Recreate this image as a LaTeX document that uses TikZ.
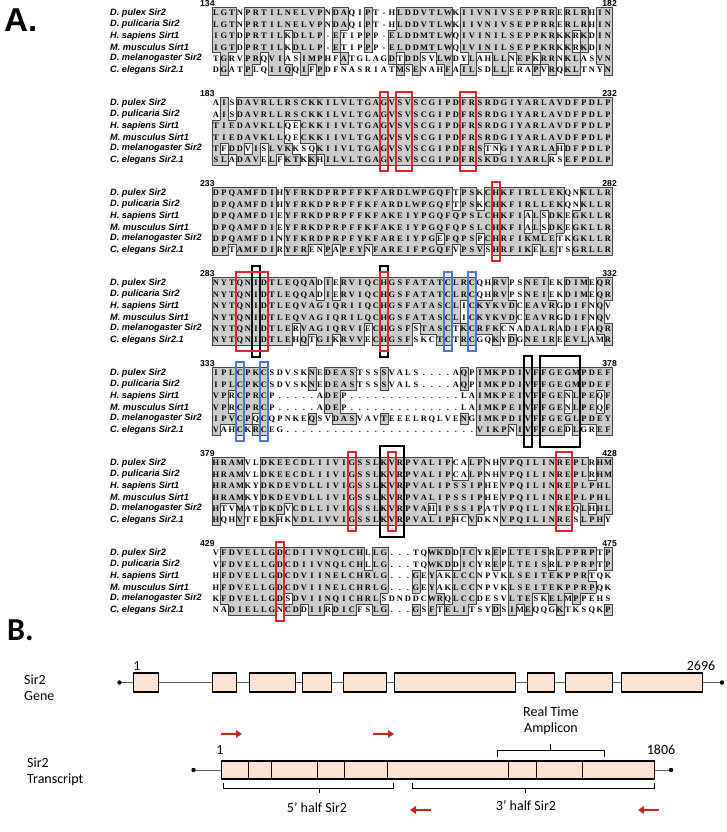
\documentclass[tikz,border=0pt]{standalone}
\usepackage{fontspec}
\setmainfont{Liberation Serif}
\setsansfont{Liberation Sans}
\newfontfamily\calibri{Carlito}
\usetikzlibrary{arrows.meta, positioning}

\definecolor{exonfill}{HTML}{FBE3D3}
\definecolor{boxred}{HTML}{E3262A}
\definecolor{boxblue}{HTML}{4A78D0}
\definecolor{primerred}{HTML}{C0281C}
\definecolor{shadegray}{HTML}{CCCCCC}
\definecolor{shadeline}{HTML}{444444}

% one residue per column: \aa-block-row-column
\makeatletter
\newcount\aacol
\newcommand\storerow[3]{%
  \aacol=0
  \@tfor\onechar:=#3\do{%
    \advance\aacol by 1
    \expandafter\xdef\csname aa-#1-#2-\the\aacol\endcsname{\onechar}}}
\makeatother
\newcommand\storeblock[7]{%
  \storerow{#1}{1}{#2}\storerow{#1}{2}{#3}\storerow{#1}{3}{#4}%
  \storerow{#1}{4}{#5}\storerow{#1}{5}{#6}\storerow{#1}{6}{#7}}

\storeblock{1}{LGTNPRTILNELVPNDAQIPT-HLDDVTLWKIIVNIVSEPPRRERLRHIN}
  {LGTNPRTILNELVPNDAQIPT-HLDDVTLWKIIVNIVSEPPRRERLRHIN}
  {IGTDPRTILKDLLP-ETIPPP-ELDDMTLWQIVINILSEPPKRKKRKDIN}
  {IGTDPRTILKDLLP-ETIPPP-ELDDMTLWQIVINILSEPPKRKKRKDIN}
  {TGRVPRQVIASIMPHFATGLAGDTDDSVLWDYLAHLLNEPKRRNKLASVN}
  {DGATPLQIIQQIFPDFNASRIATMSENAHFAILSDLLERAPVRQKLTNYN}
\storeblock{2}{AISDAVRLLRSCKKILVLTGAGVSVSCGIPDFRSRDGIYARLAVDFPDLP}
  {AISDAVRLLRSCKKILVLTGAGVSVSCGIPDFRSRDGIYARLAVDFPDLP}
  {TIEDAVKLLQECKKIIVLTGAGVSVSCGIPDFRSRDGIYARLAVDFPDLP}
  {TIEDAVKLLQECKKIIVLTGAGVSVSCGIPDFRSRDGIYARLAVDFPDLP}
  {TFDDVISLVKKSQKIIVLTGAGVSVSCGIPDFRSTNGIYARLAHDFPDLP}
  {SLADAVELFKTKKHILVLTGAGVSVSCGIPDFRSKDGIYARLRSEFPDLP}
\storeblock{3}{DPQAMFDIHYFRKDPRPFFKFARDLWPGQFTPSKCHKFIRLLEKQNKLLR}
  {DPQAMFDIHYFRKDPRPFFKFARDLWPGQFTPSKCHKFIRLLEKQNKLLR}
  {DPQAMFDIEYFRKDPRPFFKFAKEIYPGQFQPSLCHKFIALSDKEGKLLR}
  {DPQAMFDIEYFRKDPRPFFKFAKEIYPGQFQPSLCHKFIALSDKEGKLLR}
  {DPQAMFDINYFKRDPRPFYKFAREIYPGEFQPSPCHRFIKMLETKGKLLR}
  {DPTAMFDIRYFRENPAPFYNFAREIFPGQFVPSVSHRFIKELETSGRLLR}
\storeblock{4}{NYTQNIDTLEQQADIERVIQCHGSFATATCLRCQHRVPSNEIEKDIMEQR}
  {NYTQNIDTLEQQADIERVIQCHGSFATATCLRCQHRVPSNEIEKDIMEQR}
  {NYTQNIDTLEQVAGIQRIIQCHGSFATASCLICKYKVDCEAVRGDIFNQV}
  {NYTQNIDTLEQVAGIQRILQCHGSFATASCLICKYKVDCEAVRGDIFNQV}
  {NYTQNIDTLERVAGIQRVIECHGSFSTASCTKCRFKCNADALRADIFAQR}
  {NYTQNIDTLEHQTGIKRVVECHGSFSKCTCTRCGQKYDGNEIREEVLAMR}
\storeblock{5}{IPLCPKCSDVSKNEDEASTSSSVALS....AQPIMKPDIVFFGEGMPDEF}
  {IPLCPKCSDVSKNEDEASTSSSVALS....AQPIMKPDIVFFGEGMPDEF}
  {VPRCPRCP.....ADEP..............LAIMKPEIVFFGENLPEQF}
  {VPRCPRCP.....ADEP..............LAIMKPEIVFFGENLPEQF}
  {IPVCPQCQPNKEQSVDASVAVTEEELRQLVENGIMKPDIVFFGEGLPDEY}
  {VAHCKRCEG........................VIKPNIVFFGEDLGREF}
\storeblock{6}{HRAMVLDKEECDLIIVIGSSLKVRPVALIPCALPNHVPQILINREPLRHM}
  {HRAMVLDKEECDLIIVIGSSLKVRPVALIPCALPNHVPQILINREPLRHM}
  {HRAMKYDKDEVDLLIVIGSSLKVRPVALIPSSIPHEVPQILINREPLPHL}
  {HRAMKYDKDEVDLLIVIGSSLKVRPVALIPSSIPHEVPQILINREPLPHL}
  {HTVMATDKDVCDLLIVIGSSLKVRPVAHIPSSIPATVPQILINREQLHHL}
  {HQHVTEDKHKVDLIVVIGSSLKVRPVALIPHCVDKNVPQILINRESLPHY}
\storeblock{7}{VFDVELLGDCDIIVNQLCHLLG...TQWKDDICYREPLTEISRLPPRPTP}
  {VFDVELLGDCDIIVNQLCHLLG...TQWKDDICYREPLTEISRLPPRPTP}
  {HFDVELLGDCDVIINELCHRLG...GEYAKLCCNPVKLSEITEKPPRTQK}
  {HFDVELLGDCDVIINELCHRLG...GEYAKLCCNPVKLSEITEKPPRPQK}
  {KFDVELLGDSDVIINQICHRLSDNDDCWRQLCCDESVLTESKELMPPEHS}
  {NADIELLGNCDDIIRDICFSLG...GSFTELITSYDSIMEQQGKTKSQKP}

% similarity groups
\newcommand\setgrp[2]{\foreach \g in {#1}{\expandafter\xdef\csname grp-\g\endcsname{#2}}}
\setgrp{I,L,V,M}{h}\setgrp{F,Y,W}{f}\setgrp{K,R}{k}\setgrp{D,E}{d}
\setgrp{N,Q}{n}\setgrp{S,T}{s}\setgrp{A}{a}\setgrp{G}{g}\setgrp{P}{p}
\setgrp{C}{c}\setgrp{H}{b}
\expandafter\def\csname grp-.\endcsname{x}
\expandafter\def\csname grp--\endcsname{x}

% a cell is shaded when its group fills 3 or more rows of the column
\newcount\samecnt
\newcommand\grpof[3]{\csname grp-\csname aa-#1-#2-#3\endcsname\endcsname}
\newcommand\countsame[3]{%
  \edef\othergrp{\grpof{#1}{#2}{#3}}%
  \ifx\mygrp\othergrp\advance\samecnt by 1 \fi}
\newcommand\markshade[3]{%
  \edef\mygrp{\grpof{#1}{#2}{#3}}%
  \samecnt=0
  \countsame{#1}{1}{#3}\countsame{#1}{2}{#3}\countsame{#1}{3}{#3}%
  \countsame{#1}{4}{#3}\countsame{#1}{5}{#3}\countsame{#1}{6}{#3}%
  \ifnum\samecnt>2 \if x\mygrp\else
    \expandafter\gdef\csname sh-#1-#2-#3\endcsname{}\fi\fi}
\foreach \bk in {1,...,7}{\foreach \rw in {1,...,6}{\foreach \cl in {1,...,50}{\markshade{\bk}{\rw}{\cl}}}}

\begin{document}
\begin{tikzpicture}[x=1pt, y=-1pt,
    aa/.style={inner sep=0pt, text height=5.8pt, text depth=0pt,
      font=\bfseries\fontsize{8.4}{9}\selectfont},
    species/.style={anchor=west, inner sep=0pt,
      font=\sffamily\bfseries\itshape\fontsize{9.2}{10}\selectfont},
    resnum/.style={inner sep=0pt, font=\sffamily\bfseries\fontsize{8.6}{9}\selectfont},
    shadeedge/.style={shadeline, line width=0.8pt, line cap=rect},
    sitebox/.style={line width=1.5pt},
    geneline/.style={draw=black!65, line width=1pt},
    exon/.style={draw, fill=exonfill, line width=1.3pt, inner sep=0pt,
      minimum height=19, anchor=west},
    lbl/.style={inner sep=0pt, font=\calibri\fontsize{14}{16}\selectfont},
    primer/.style={primerred, line width=2.4pt, -{Triangle[length=6pt, width=7.5pt]}},
    bracket/.style={line width=0.9pt}]
\useasboundingbox (0,0) rectangle (726,832);

%% A. alignment
\node[anchor=base west, inner sep=0pt, font=\sffamily\bfseries\fontsize{33}{33}\selectfont] (labA) at (4,32) {A.};

% shaded cells
\foreach \bk in {1,...,7}
  \foreach \rw in {1,...,6}
    \foreach \cl in {1,...,50}{
      \ifcsname sh-\bk-\rw-\cl\endcsname
        \fill[shadegray] ({204+8*\cl},{7.3+90*(\bk-1)+11.4*(\rw-1)}) rectangle ++(8,11.4);
      \fi}

% outlines of the shaded runs
\foreach \bk in {1,...,7}
  \foreach \rw in {1,...,6}
    \foreach \cl in {1,...,50}{
      \ifcsname sh-\bk-\rw-\cl\endcsname
        \pgfmathsetmacro\cx{204+8*\cl}
        \pgfmathsetmacro\cy{7.3+90*(\bk-1)+11.4*(\rw-1)}
        \ifcsname sh-\bk-\rw-\the\numexpr\cl-1\relax\endcsname\else
          \draw[shadeedge] (\cx,\cy) -- ++(0,11.4);\fi
        \ifcsname sh-\bk-\rw-\the\numexpr\cl+1\relax\endcsname\else
          \draw[shadeedge] ({\cx+8},\cy) -- ++(0,11.4);\fi
        \ifcsname sh-\bk-\the\numexpr\rw-1\relax-\cl\endcsname\else
          \draw[shadeedge] (\cx,\cy) -- ++(8,0);\fi
        \ifcsname sh-\bk-\the\numexpr\rw+1\relax-\cl\endcsname\else
          \draw[shadeedge] (\cx,{\cy+11.4}) -- ++(8,0);\fi
      \fi}

% residues
\foreach \bk in {1,...,7}
  \foreach \rw in {1,...,6}
    \foreach \cl in {1,...,50}
      \node[aa] (aa-\bk-\rw-\cl) at ({208+8*\cl},{13+90*(\bk-1)+11.4*(\rw-1)}) {\csname aa-\bk-\rw-\cl\endcsname};

% species names
\foreach \bk in {1,...,7}
  \foreach \rw/\spname in {1/D. pulex Sir2, 2/D. pulicaria Sir2, 3/H. sapiens Sirt1,
      4/M. musculus Sirt1, 5/D. melanogaster Sir2, 6/C. elegans Sir2.1}
    \node[species] (sp-\bk-\rw) at (110,{13+90*(\bk-1)+11.4*(\rw-1)}) {\spname};

% residue numbers
\foreach \bk/\fromnum/\tonum in {1/134/182, 2/183/232, 3/233/282, 4/283/332,
    5/333/378, 6/379/428, 7/429/475}{
  \node[resnum, anchor=west] (first-\bk) at (200,{3.5+90*(\bk-1)}) {\fromnum};
  \node[resnum, anchor=east] (last-\bk) at (617,{3.5+90*(\bk-1)}) {\tonum};}

% marked sites
\foreach \bk/\cola/\colb/\clr/\ext in {4/6/6/black/17, 4/22/22/black/17, 5/40/40/black/17,
    5/42/46/black/17, 6/22/24/black/17,
    2/22/22/boxred/11, 2/24/25/boxred/11, 2/32/33/boxred/11, 3/36/36/boxred/11,
    4/4/7/boxred/11, 4/22/22/boxred/11, 6/18/18/boxred/11, 6/23/23/boxred/11,
    6/44/45/boxred/11, 7/9/9/boxred/11,
    4/30/30/boxblue/11, 4/33/33/boxblue/11, 5/4/4/boxblue/11, 5/7/7/boxblue/11}
  \draw[sitebox, \clr] ({204+8*\cola},{13+90*(\bk-1)-\ext}) rectangle ({212+8*\colb},{70+90*(\bk-1)+\ext});

%% B. gene and transcript
\node[anchor=base west, inner sep=0pt, font=\calibri\bfseries\fontsize{32}{32}\selectfont] (labB) at (7,640) {B.};

% gene
\coordinate (gl) at (119.5,682.5);
\coordinate (gr) at (722,682.5);
\draw[geneline] (gl) -- (gr);
\fill (gl) circle (2.2pt);
\fill (gr) circle (2.2pt);
\foreach \n/\xa/\xb in {1/133/158, 2/212/236, 3/249/295, 4/302/331, 5/343/386,
    6/394/515, 7/527/554, 8/565/612, 9/621/702}
  \node[exon, minimum width={\xb-\xa}] (ex\n) at (\xa,682.5) {};
\node[lbl] (gfirst) at (137,666) {1};
\node[lbl] (glast) at (701,666) {2696};
\node[lbl, anchor=west, align=left] (genelbl) at (24,688) {Sir2\\Gene};

% transcript
\coordinate (tl) at (193.5,770);
\coordinate (tr) at (671,770);
\draw[geneline] (tl) -- (tr);
\fill (tl) circle (2.2pt);
\fill (tr) circle (2.2pt);
\foreach \n/\xa/\xb in {1/221/248, 2/248/271, 3/271/317, 4/317/344, 5/344/387,
    6/387/508, 7/508/536, 8/536/582, 9/582/654}
  \node[exon, minimum height=18, minimum width={\xb-\xa}] (tx\n) at (\xa,770) {};
\node[lbl] (tfirst) at (220,750) {1};
\node[lbl] (tlast) at (661,750) {1806};
\node[lbl, anchor=west, align=left] (txlbl) at (27,772) {Sir2\\Transcript};

% amplicon and halves
\node[lbl, align=center] (amp) at (551,721) {Real Time\\Amplicon};
\draw[bracket] (497,757) -- (497,750) -- (604,750) -- (604,757) (550.5,750) -- (550.5,744);
\draw[bracket] (223,783) -- (223,788) -- (393,788) -- (393,783) (319,788) -- (319,793);
\draw[bracket] (412,783) -- (412,788) -- (654,788) -- (654,783) (525,788) -- (525,793);
\node[lbl] (half5) at (317,808) {5’ half Sir2};
\node[lbl] (half3) at (526,806) {3’ half Sir2};

% primers
\coordinate (f1s) at (221,734); \coordinate (f1e) at (242,734);
\coordinate (f2s) at (373,734); \coordinate (f2e) at (394,734);
\coordinate (r1s) at (431,810); \coordinate (r1e) at (410,810);
\coordinate (r2s) at (659,810); \coordinate (r2e) at (638,810);
\draw[primer] (f1s) -- (f1e);
\draw[primer] (f2s) -- (f2e);
\draw[primer] (r1s) -- (r1e);
\draw[primer] (r2s) -- (r2e);
\end{tikzpicture}
\end{document}
